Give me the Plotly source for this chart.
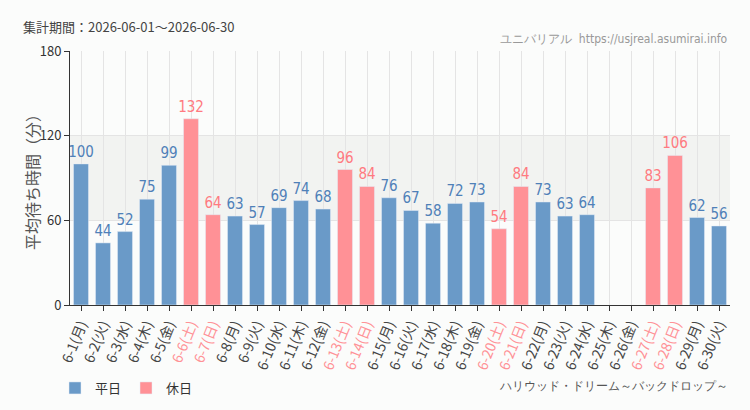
import plotly.graph_objects as go

days = [f"6-{d}" for d in range(1, 31)]
weekdays = ["月", "火", "水", "木", "金", "土", "日"]
dow = [weekdays[(d - 1) % 7] for d in range(1, 31)]
values = [100, 44, 52, 75, 99, 132, 64, 63, 57, 69, 74, 68, 96, 84, 76,
          67, 58, 72, 73, 54, 84, 73, 63, 64, None, None, 83, 106, 62, 56]
holiday = [w in ("土", "日") for w in dow]
y_ticks = [0, 60, 120, 180]

BLUE = "#6a9ac8"
PINK = "#ff9196"
BLUE_T = "#4f80b8"
PINK_T = "#ff7a80"
CJK = "Noto Sans CJK JP"
NARROW = "Liberation Sans Narrow, DejaVu Sans Condensed, Roboto, sans-serif"

cats = list(range(len(days)))
ticktext = []
for d, w, h in zip(days, dow, holiday):
    lab = f"{d}({w})"
    if h:
        lab = f'<span style="color:{PINK}">{lab}</span>'
    ticktext.append(lab)

wk_vals = [v if not h else None for v, h in zip(values, holiday)]
ho_vals = [v if h else None for v, h in zip(values, holiday)]

fig = go.Figure()
fig.add_bar(x=cats, y=wk_vals, name="平日", marker_color=BLUE, width=0.68,
            text=[str(v) if v is not None else "" for v in wk_vals],
            textposition="outside", cliponaxis=False, constraintext="none",
            textfont=dict(family=NARROW, size=15, color=BLUE_T))
fig.add_bar(x=cats, y=ho_vals, name="休日", marker_color=PINK, width=0.68,
            text=[str(v) if v is not None else "" for v in ho_vals],
            textposition="outside", cliponaxis=False, constraintext="none",
            textfont=dict(family=NARROW, size=15, color=PINK_T))

fig.add_shape(type="rect", xref="paper", yref="y", x0=0, x1=1, y0=60, y1=120,
              fillcolor="#f2f3f1", line_width=0, layer="below")

fig.update_layout(
    width=750, height=410,
    margin=dict(l=70, r=20, t=51, b=105, autoexpand=False),
    paper_bgcolor="#fbfcfb", plot_bgcolor="#fbfcfb",
    barmode="overlay",
    showlegend=True,
    legend=dict(orientation="h", xref="container", yref="container",
                x=55 / 750, y=1 - 388 / 410,
                yanchor="middle", xanchor="left",
                font=dict(family=CJK, size=13, color="#333"),
                bgcolor="rgba(0,0,0,0)"),
    font=dict(family=CJK, color="#333"),
)
fig.update_xaxes(
    tickmode="array", tickvals=cats, ticktext=ticktext, tickangle=-68,
    range=[-0.5, len(days) - 0.5], automargin=False,
    showgrid=True, gridcolor="#e4e4e4", gridwidth=1,
    showline=True, linecolor="#333", linewidth=1,
    ticks="outside", ticklen=5, tickcolor="#333",
    tickfont=dict(family=CJK, size=14, color="#444"),
)
fig.update_yaxes(
    range=[0, 180], tickvals=y_ticks, automargin=False,
    showgrid=True, gridcolor="#e4e4e4", zeroline=False,
    showline=True, linecolor="#333", linewidth=1,
    ticks="outside", ticklen=5, tickcolor="#333",
    tickfont=dict(family=CJK, size=13, color="#333"),
)

fig.add_annotation(xref="paper", yref="paper", x=-38 / 660, y=0.5,
                   xanchor="center", yanchor="middle", showarrow=False, textangle=-90,
                   text="平均待ち時間（分）",
                   font=dict(family=CJK, size=16, color="#555"))
fig.add_annotation(xref="paper", yref="paper", x=-0.075, y=1.0, yshift=25,
                   xanchor="left", yanchor="middle", showarrow=False,
                   text="集計期間：2026-06-01～2026-06-30",
                   font=dict(family=CJK, size=13, color="#444"))
fig.add_annotation(xref="paper", yref="paper", x=1.0, y=1.0, yshift=12,
                   xanchor="right", yanchor="middle", showarrow=False,
                   text="ユニバリアル  https://usjreal.asumirai.info",
                   font=dict(family=NARROW, size=12, color="#999"))
fig.add_annotation(xref="paper", yref="paper", x=1.0, y=0, yshift=-81,
                   xanchor="right", yanchor="middle", showarrow=False,
                   text="ハリウッド・ドリーム～バックドロップ～",
                   font=dict(family=NARROW, size=12, color="#555"))

fig.write_html("out.html")
